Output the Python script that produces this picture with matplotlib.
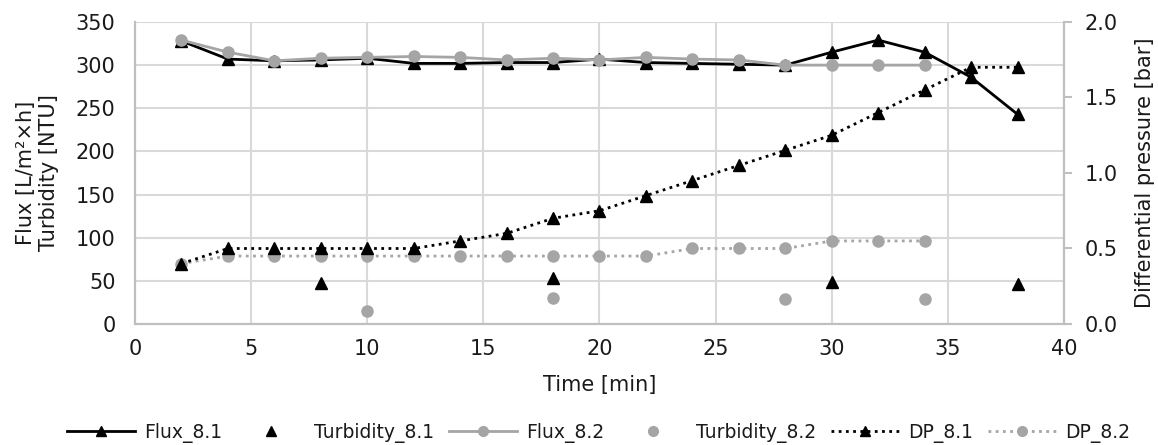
import matplotlib
matplotlib.use('Agg')
import matplotlib.pyplot as plt
from matplotlib.lines import Line2D

plt.rcParams['font.family'] = ['DejaVu Sans']

# ==========================================
# data
# ==========================================
time_81 = [2, 4, 6, 8, 10, 12, 14, 16, 18, 20, 22, 24, 26, 28, 30, 32, 34, 36, 38]
flux_81 = [328, 307, 305, 306, 308, 302, 302, 303, 303, 307, 303, 302, 301, 300, 315, 329, 315, 286, 243]
dp_81 = [0.40, 0.50, 0.50, 0.50, 0.50, 0.50, 0.55, 0.60, 0.70, 0.75, 0.85, 0.95, 1.05, 1.15, 1.25, 1.40, 1.55, 1.70, 1.70]

time_82 = [2, 4, 6, 8, 10, 12, 14, 16, 18, 20, 22, 24, 26, 28, 30, 32, 34]
flux_82 = [329, 315, 305, 308, 309, 310, 309, 306, 308, 306, 309, 307, 306, 300, 300, 300, 300]
dp_82 = [0.40, 0.45, 0.45, 0.45, 0.45, 0.45, 0.45, 0.45, 0.45, 0.45, 0.45, 0.50, 0.50, 0.50, 0.55, 0.55, 0.55]

turb_81_t = [8, 18, 30, 38]
turb_81 = [47, 53, 49, 46]
turb_82_t = [10, 18, 28, 34]
turb_82 = [15, 30, 29, 29]

x_ticks = [0, 5, 10, 15, 20, 25, 30, 35, 40]
y_ticks = [0, 50, 100, 150, 200, 250, 300, 350]
dp_ticks = [0.0, 0.5, 1.0, 1.5, 2.0]

BLACK = '#000000'
GRAY = '#a5a5a5'
GRID = '#d9d9d9'
AXIS = '#bfbfbf'
TXT = '#1a1a1a'
FS = 15
LEG_FS = 13.5
DOT = (0, (1, 1.6))

fig = plt.figure(figsize=(11.58, 4.45), dpi=100)
ax1 = fig.add_axes([0.1166, 0.2719, 0.8022, 0.6787])
ax2 = ax1.twinx()

# --- left axis: flux + turbidity ---
ax1.plot(time_81, flux_81, color=BLACK, lw=2, marker='^', ms=8, zorder=4)
ax1.plot(turb_81_t, turb_81, color=BLACK, lw=0, marker='^', ms=8, zorder=4)
ax1.plot(time_82, flux_82, color=GRAY, lw=2, marker='o', ms=8, zorder=5)
ax1.plot(turb_82_t, turb_82, color=GRAY, lw=0, marker='o', ms=8, zorder=5)

# --- right axis: differential pressure ---
ax2.plot(time_82, dp_82, color=GRAY, lw=2, ls=DOT, marker='o', ms=8)
ax2.plot(time_81, dp_81, color=BLACK, lw=2, ls=DOT, marker='^', ms=8)

ax1.set_xlim(0, 40)
ax1.set_ylim(0, 350)
ax2.set_ylim(0, 2.0)
ax1.set_xticks(x_ticks)
ax1.set_yticks(y_ticks)
ax2.set_yticks(dp_ticks)
ax2.set_yticklabels([f'{v:.1f}' for v in dp_ticks])

ax1.grid(True, color=GRID, lw=1.5)
ax1.set_axisbelow(True)
ax1.tick_params(axis='x', length=0, labelsize=FS, pad=11, colors=TXT)
ax1.tick_params(axis='y', length=0, labelsize=FS, pad=14, colors=TXT)
ax2.tick_params(axis='y', length=6, width=1.5, color=AXIS, labelsize=FS, pad=9, labelcolor=TXT)

for ax in (ax1, ax2):
    ax.spines['top'].set_visible(False)
    for side in ('left', 'bottom', 'right'):
        ax.spines[side].set_color(AXIS)
        ax.spines[side].set_linewidth(1.5)

ax1.set_xlabel('Time [min]', fontsize=FS, labelpad=11, color=TXT)
ax1.set_ylabel('Flux [L/m²×h]\nTurbidity [NTU]', fontsize=FS, labelpad=12, color=TXT)
ax2.set_ylabel('Differential pressure [bar]', fontsize=FS, labelpad=12, color=TXT)

handles = [
    Line2D([], [], color=BLACK, lw=2, marker='^', ms=7),
    Line2D([], [], color=BLACK, lw=0, marker='^', ms=7),
    Line2D([], [], color=GRAY, lw=2, marker='o', ms=7),
    Line2D([], [], color=GRAY, lw=0, marker='o', ms=7),
    Line2D([], [], color=BLACK, lw=2, ls=DOT, marker='^', ms=7),
    Line2D([], [], color=GRAY, lw=2, ls=DOT, marker='o', ms=7),
]
labels = ['Flux_8.1', 'Turbidity_8.1', 'Flux_8.2', 'Turbidity_8.2', 'DP_8.1', 'DP_8.2']
fig.legend(handles, labels, loc='center', bbox_to_anchor=(0.517, 0.027), ncol=6,
           frameon=False, fontsize=LEG_FS, handlelength=3.6, columnspacing=0.8,
           handletextpad=0.5, labelcolor=TXT)

plt.savefig('out.png', dpi=100)
plt.close()
